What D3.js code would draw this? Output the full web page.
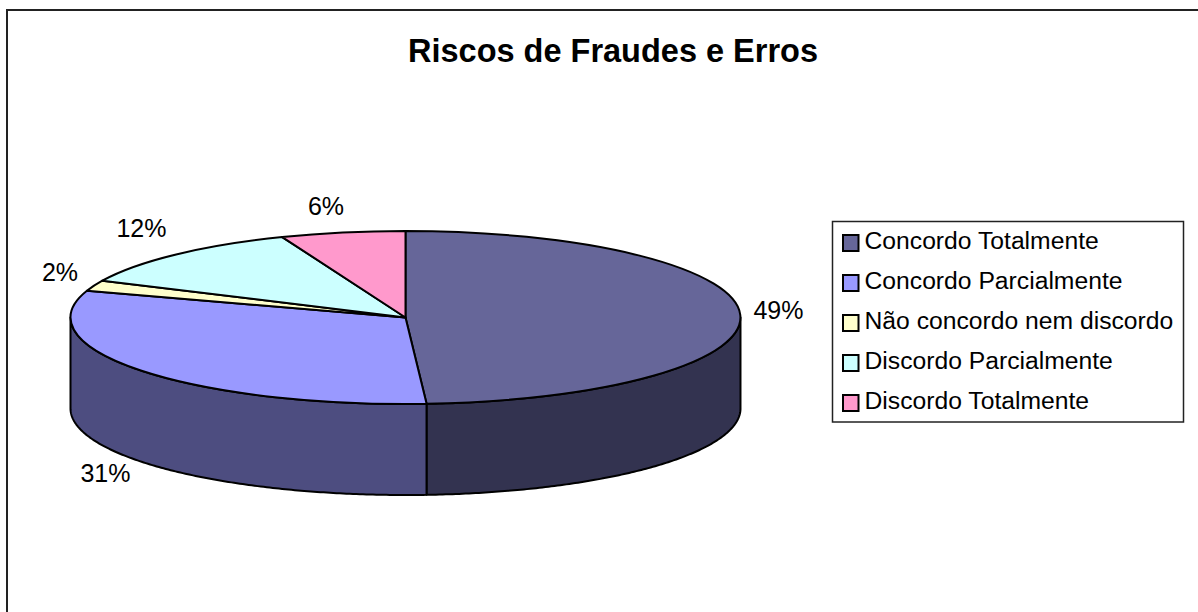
<!DOCTYPE html>
<html>
<head>
<meta charset="utf-8">
<script src="https://cdnjs.cloudflare.com/ajax/libs/d3/7.8.5/d3.min.js"></script>
<style>
  html, body { margin: 0; padding: 0; background: #fff; overflow: hidden; }
  svg { display: block; }
  text { font-family: "Liberation Sans", Arial, sans-serif; fill: #000; }
</style>
</head>
<body>
<div id="chart"></div>
<script>
const chartTitle = 'Riscos de Fraudes e Erros';
const categories = ['Concordo Totalmente', 'Concordo Parcialmente', 'Não concordo nem discordo', 'Discordo Parcialmente', 'Discordo Totalmente'];
const values = [49, 31, 2, 12, 6];
const topColors = ['#666699', '#9999ff', '#ffffcc', '#ccffff', '#ff99cc'];
const sideColors = ['#333350', '#4d4d80', '#80805f', '#668080', '#804d66'];

const width = 1198, height = 612;
const cx = 405.5, cy = 317.5, rx = 335, ry = 86.5, depth = 91;

// label anchors (centre, baseline), by hand because Excel placed them that way
const labelPos = [[778.5, 319], [105.5, 482], [60, 281], [141.5, 237], [326, 215]];

const svg = d3.select('#chart').append('svg')
  .attr('width', width)
  .attr('height', height);

// frame runs off the window on the right and at the bottom
svg.append('path')
  .attr('d', `M7,${height}V10H${width}`)
  .attr('fill', 'none')
  .attr('stroke', '#222')
  .attr('stroke-width', 2);

svg.append('text')
  .attr('x', 613)
  .attr('y', 62)
  .attr('text-anchor', 'middle')
  .attr('font-size', 32.5)
  .attr('font-weight', 'bold')
  .text(chartTitle);

const pie = d3.pie().sort(null).value(d => d);
const arcs = pie(values);

// angle is clockwise from the top of the ellipse
const px = a => cx + rx * Math.sin(a);
const py = a => cy - ry * Math.cos(a);
const line = d3.line();

// visible wall is only the front half of the disc
const wallPath = (a0, a1) => {
  const start = Math.max(a0, Math.PI / 2);
  const end = Math.min(a1, 3 * Math.PI / 2);
  if (end <= start) return null;
  const angles = d3.range(start, end, 0.01).concat(end);
  const front = angles.map(a => [px(a), py(a)]);
  const back = angles.slice().reverse().map(a => [px(a), py(a) + depth]);
  return line(front.concat(back)) + 'Z';
};

const wallSpans = arcs.map((d, i) => ({ d: wallPath(d.startAngle, d.endAngle), i }))
  .filter(w => w.d);

svg.append('g').selectAll('path')
  .data(wallSpans)
  .join('path')
  .attr('d', w => w.d)
  .attr('fill', w => sideColors[w.i])
  .attr('stroke', '#000')
  .attr('stroke-width', 2)
  .attr('stroke-linejoin', 'round');

const arcGen = d3.arc().innerRadius(0).outerRadius(1);

svg.append('g')
  .attr('transform', `translate(${cx},${cy}) scale(${rx},${ry})`)
  .selectAll('path')
  .data(arcs)
  .join('path')
  .attr('d', arcGen)
  .attr('fill', (d, i) => topColors[i])
  .attr('stroke', '#000')
  .attr('stroke-width', 2)
  .attr('stroke-linejoin', 'round')
  .attr('vector-effect', 'non-scaling-stroke');

svg.append('g').selectAll('text')
  .data(values)
  .join('text')
  .attr('x', (d, i) => labelPos[i][0])
  .attr('y', (d, i) => labelPos[i][1])
  .attr('text-anchor', 'middle')
  .attr('font-size', 25)
  .text(d => d + '%');

// legend
const legendX = 832.5, legendY = 221.5, legendW = 351, legendH = 200.5;
const legend = svg.append('g');

legend.append('rect')
  .attr('x', legendX)
  .attr('y', legendY)
  .attr('width', legendW)
  .attr('height', legendH)
  .attr('fill', '#fff')
  .attr('stroke', '#222')
  .attr('stroke-width', 1.5);

const legendScale = d3.scalePoint()
  .domain(categories)
  .range([243, 403]);

const rows = legend.selectAll('g')
  .data(categories)
  .join('g')
  .attr('transform', d => `translate(0,${legendScale(d)})`);

rows.append('rect')
  .attr('x', 843)
  .attr('y', -8)
  .attr('width', 15.5)
  .attr('height', 16)
  .attr('fill', (d, i) => topColors[i])
  .attr('stroke', '#000')
  .attr('stroke-width', 2);

rows.append('text')
  .attr('x', 864.5)
  .attr('y', 6)
  .attr('font-size', 24.7)
  .text(d => d);
</script>
</body>
</html>
